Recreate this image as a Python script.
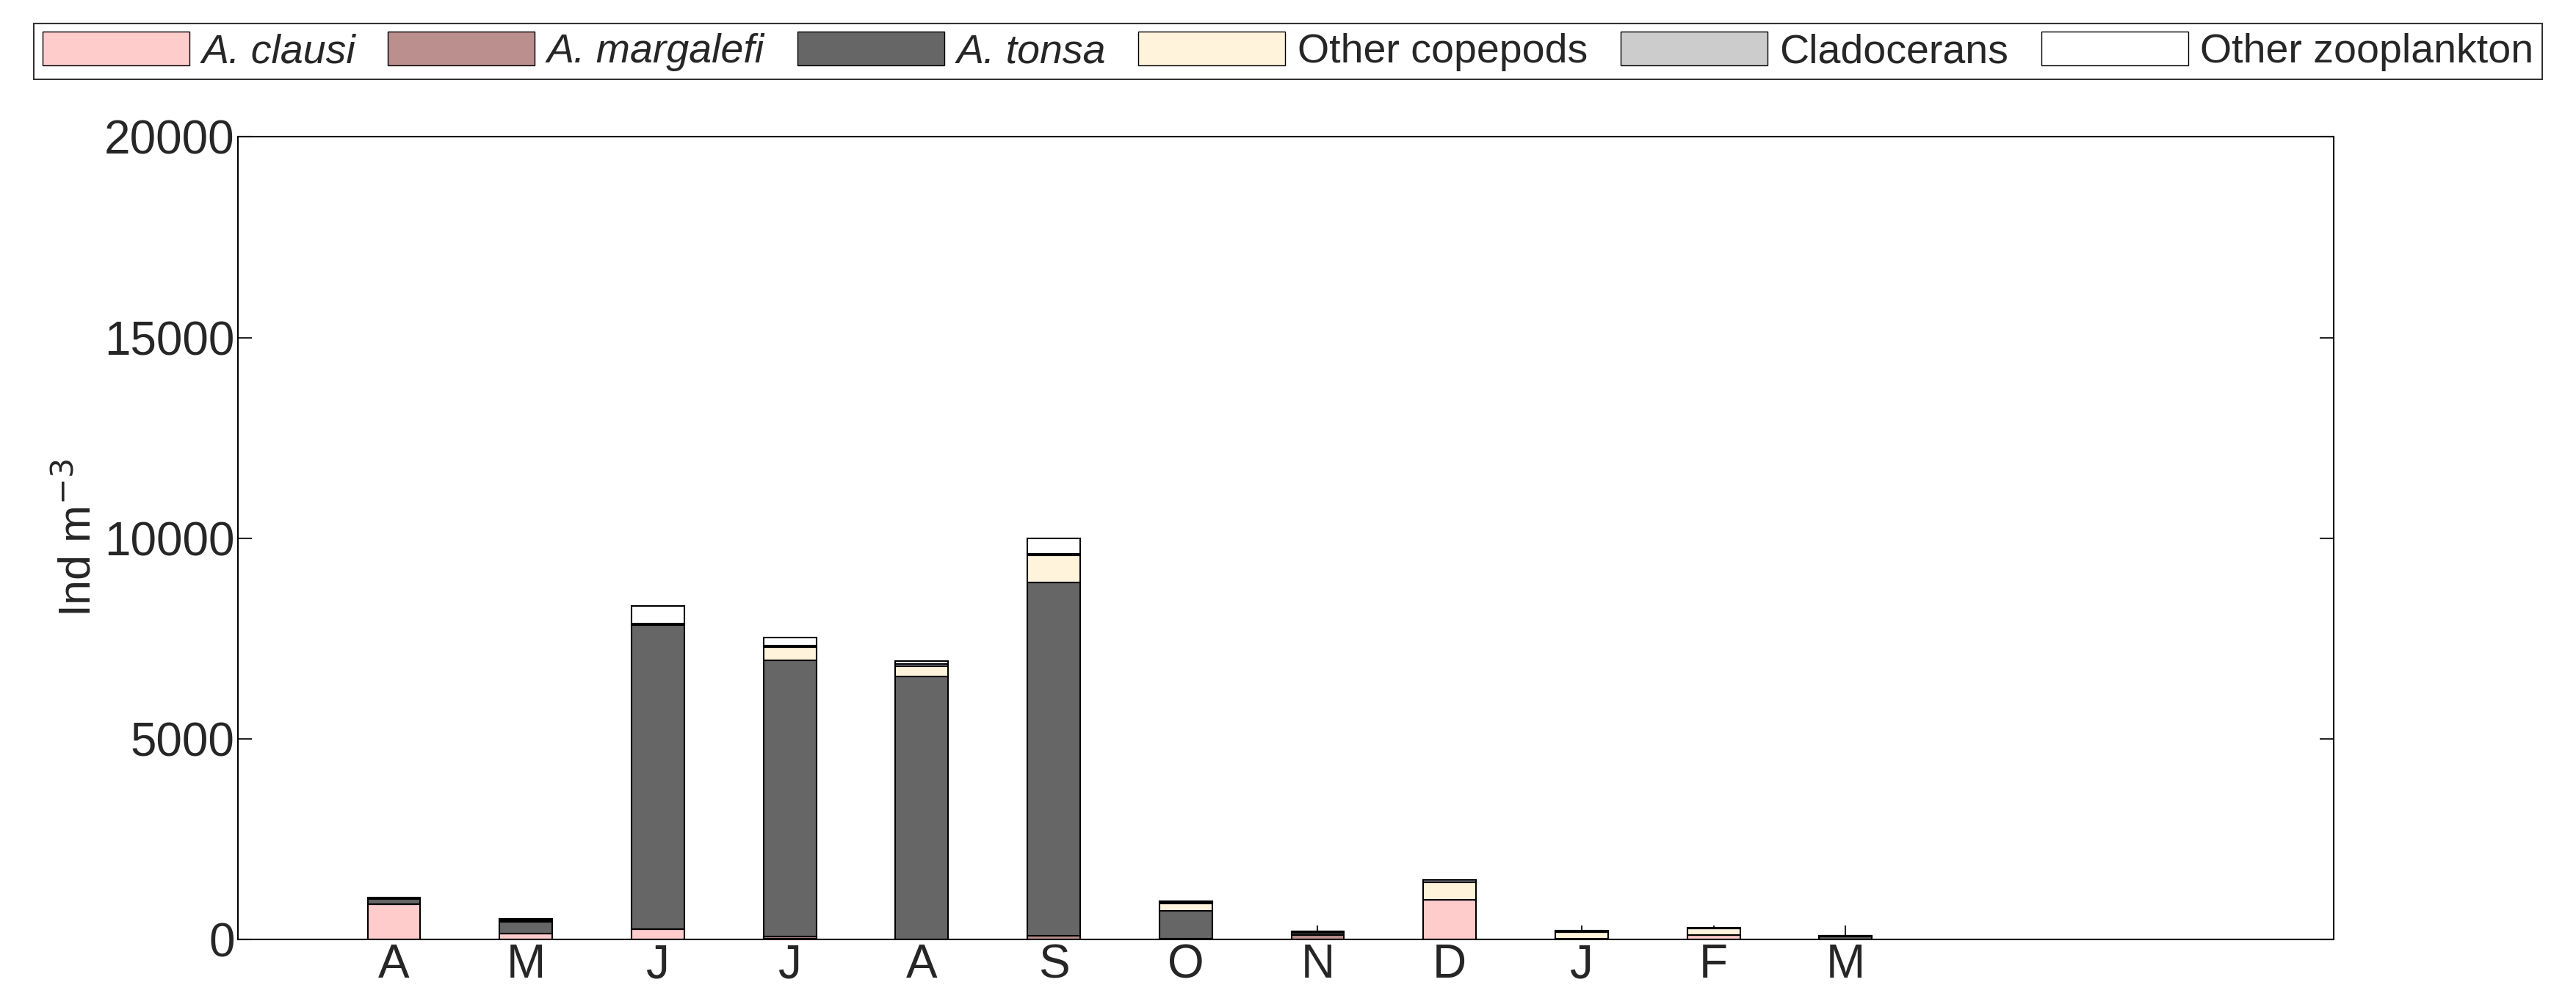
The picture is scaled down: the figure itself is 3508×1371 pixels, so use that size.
import numpy as np, pandas as pd, seaborn as sns, matplotlib
matplotlib.use("Agg")
import matplotlib.pyplot as plt
from matplotlib.patches import Patch

months = ["A","M","J","J","A","S","O","N","D","J","F","M"]
a_clausi     = [880, 150, 250,   30,    0,    0,   0,   0, 990,  0, 120,  0]
a_margalefi  = [  0,   0,   0,   40,    0,  100,  20, 120,   0,  0,   0,  0]
a_tonsa      = [130, 300, 7580, 6880, 6550, 8800, 700,  50,   0, 30,   0, 80]
other_cop    = [ 20,  30,  50,  330,  260,  680, 180,  20, 440,150, 155,  5]
cladocerans  = [  0,   0,   0,   50,   60,   40,  30,   0,   0,  0,   0,  0]
other_zoo    = [ 20,  30, 440,  200,   70,  380,  30,  10,  50, 40,  25,  5]

series = [("A. clausi", a_clausi, "#ffcccc"), ("A. margalefi", a_margalefi, "#bc8f8f"),
          ("A. tonsa", a_tonsa, "#666666"), ("Other copepods", other_cop, "#fff3dc"),
          ("Cladocerans", cladocerans, "#cccccc"), ("Other zooplankton", other_zoo, "#ffffff")]

sns.set_style("white")
plt.rcParams['font.family'] = ['Arial', 'Liberation Sans', 'DejaVu Sans']
fig = plt.figure(figsize=(35.08, 13.71), dpi=100)
ax = fig.add_axes([0.0925, 0.067, 0.8135, 0.797])
x = np.arange(len(months))
bottom = np.zeros(len(months))
for name, vals, col in series:
    df = pd.DataFrame({"x": x, "y": vals})
    sns.barplot(data=df, x="x", y="y", native_scale=True, color=col, saturation=1,
                width=0.4, bottom=bottom.copy(), edgecolor="black", linewidth=1.5, ax=ax)
    bottom += np.array(vals)

ax.set_xlim(-1.18, 14.7)
ax.set_ylim(0, 20000)
ax.set_xticks(x)
ax.set_xticklabels(months)
ax.set_yticks([0, 5000, 10000, 15000, 20000])
ax.set_xlabel("")
ax.set_ylabel("Ind m$^{-3}$", fontsize=44)
ax.tick_params(axis="both", labelsize=46, direction="in", length=14, width=1.5,
               top=False, right=True, bottom=True, left=True)
for s in ax.spines.values():
    s.set_visible(True); s.set_color("black"); s.set_linewidth(1.5)

handles = [Patch(facecolor=c, edgecolor="black", label=n) for n, _, c in series]
leg = fig.legend(handles, [n for n, _, _ in series], loc="upper center",
                 bbox_to_anchor=(0.5, 0.997), ncol=6,
                 fontsize=40, frameon=True, fancybox=False, edgecolor="black",
                 handlelength=3.6, handleheight=0.9, columnspacing=0.8, handletextpad=0.3,
                 borderpad=0.2)
for t in leg.get_texts()[:3]:
    t.set_fontstyle("italic")
leg.get_frame().set_linewidth(1.5)
fig.savefig("out.png", dpi=100)
